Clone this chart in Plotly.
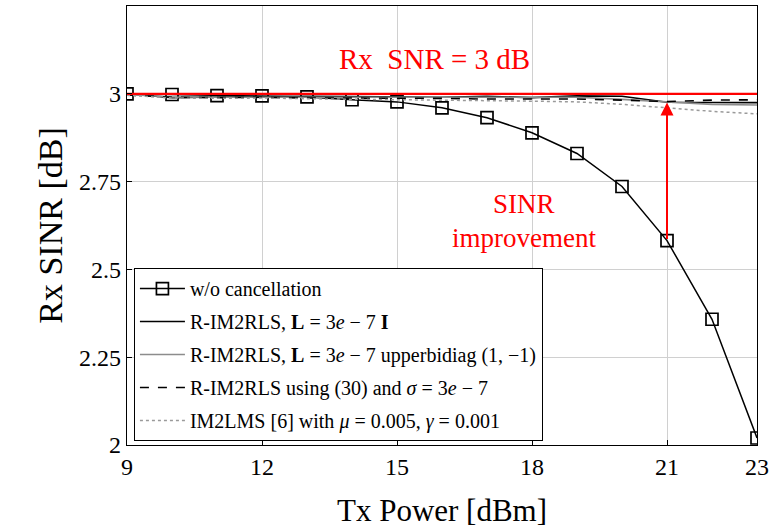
import plotly.graph_objects as go

tx_power = [9, 10, 11, 12, 13, 14, 15, 16, 17, 18, 19, 20, 21, 22, 23]

sinr_wo = [3.0, 2.998, 2.995, 2.994, 2.991, 2.983, 2.977, 2.96, 2.932, 2.889, 2.83, 2.736, 2.582, 2.358, 2.02]
sinr_rls_I = [3.0, 2.989, 2.991, 2.993, 2.993, 2.992, 2.991, 2.99, 2.993, 2.989, 2.994, 2.993, 2.976, 2.976, 2.975]
sinr_rls_bidiag = [2.998, 2.991, 2.99, 2.991, 2.99, 2.99, 2.99, 2.989, 2.988, 2.988, 2.99, 2.984, 2.978, 2.97, 2.968]
sinr_rls_30 = [2.997, 2.99, 2.989, 2.99, 2.988, 2.988, 2.987, 2.987, 2.985, 2.986, 2.985, 2.982, 2.978, 2.982, 2.983]
sinr_im2lms = [2.996, 2.988, 2.987, 2.988, 2.986, 2.985, 2.983, 2.982, 2.98, 2.979, 2.977, 2.97, 2.96, 2.95, 2.943]

snr_ref = 3.0
arrow_x = 21
arrow_from = 2.582
arrow_to = 2.975

x_ticks = [9, 12, 15, 18, 21, 23]
y_ticks = [2, 2.25, 2.5, 2.75, 3]
y_ticklabels = ["2", "2.25", "2.5", "2.75", "3"]

names = [
    "w/o cancellation",
    "R-IM2RLS, <b>L</b> = 3<i>e</i> − 7 <b>I</b>",
    "R-IM2RLS, <b>L</b> = 3<i>e</i> − 7 upperbidiag (1, −1)",
    "R-IM2RLS using (30) and <i>σ</i> = 3<i>e</i> − 7",
    "IM2LMS [6] with <i>μ</i> = 0.005, <i>γ</i> = 0.001",
]

FONT = "Liberation Serif, Times New Roman, serif"

fig = go.Figure()

fig.add_trace(go.Scatter(
    x=tx_power, y=sinr_wo, name=names[0], mode="lines+markers", legendgroup="a",
    line=dict(color="black", width=1.5),
    marker=dict(symbol="square-open", size=12, color="black", line=dict(width=1.7)),
))
fig.add_trace(go.Scatter(
    x=tx_power, y=sinr_rls_I, name=names[1], mode="lines", legendgroup="b",
    line=dict(color="black", width=1.6),
))
fig.add_trace(go.Scatter(
    x=tx_power, y=sinr_rls_bidiag, name=names[2], mode="lines", legendgroup="c",
    line=dict(color="#8c8c8c", width=1.6),
))
fig.add_trace(go.Scatter(
    x=tx_power, y=sinr_rls_30, name=names[3], mode="lines", legendgroup="d",
    line=dict(color="black", width=1.6, dash="dash"),
))
fig.add_trace(go.Scatter(
    x=tx_power, y=sinr_im2lms, name=names[4], mode="lines", legendgroup="e",
    line=dict(color="#9a9a9a", width=1.5, dash="dot"),
))
fig.add_trace(go.Scatter(
    x=[tx_power[0], tx_power[-1]], y=[snr_ref, snr_ref], mode="lines", showlegend=False,
    line=dict(color="red", width=2.2), hoverinfo="skip",
))

fig.add_annotation(
    x=arrow_x, y=arrow_to, ax=arrow_x, ay=arrow_from, xref="x", yref="y", axref="x", ayref="y",
    showarrow=True, arrowhead=2, arrowsize=1.3, arrowwidth=2, arrowcolor="red", text="",
)
fig.add_annotation(
    x=15.83, y=3.099, xref="x", yref="y", text="Rx  SNR = 3 dB", showarrow=False,
    font=dict(family=FONT, size=29, color="red"),
)
fig.add_annotation(
    x=17.82, y=2.642, xref="x", yref="y", yanchor="bottom", text="SINR", showarrow=False,
    font=dict(family=FONT, size=27, color="red"), borderpad=0,
)
fig.add_annotation(
    x=17.82, y=2.636, xref="x", yref="y", yanchor="top", text="improvement", showarrow=False,
    font=dict(family=FONT, size=27, color="red"), borderpad=0,
)

axis_common = dict(
    showline=True, linecolor="black", linewidth=1.2, mirror=True,
    ticks="inside", ticklen=5, tickcolor="black",
    showgrid=True, gridcolor="#d0d0d0", gridwidth=1, zeroline=False,
    tickfont=dict(family=FONT, size=24, color="black"),
    ticklabeloverflow="allow",
)

fig.update_xaxes(
    range=[9, 23], tickvals=x_ticks, ticktext=[str(v) for v in x_ticks],
    title=dict(text="Tx Power [dBm]", font=dict(family=FONT, size=31, color="black"), standoff=20),
    **axis_common,
)
fig.update_yaxes(
    range=[2, 3.25], tickvals=y_ticks, ticktext=y_ticklabels,
    title=dict(text="Rx SINR [dB]", font=dict(family=FONT, size=34, color="black"), standoff=6),
    **axis_common,
)

fig.update_layout(
    width=774, height=529,
    margin=dict(l=127, r=6, t=5, b=84),
    paper_bgcolor="white", plot_bgcolor="white",
    font=dict(family=FONT, color="black"),
    legend=dict(
        x=0.011, y=0.009, xanchor="left", yanchor="bottom",
        bgcolor="white", bordercolor="black", borderwidth=1,
        font=dict(family=FONT, size=20, color="black"),
        itemwidth=45, tracegroupgap=4,
    ),
)

fig.write_html("out.html")
